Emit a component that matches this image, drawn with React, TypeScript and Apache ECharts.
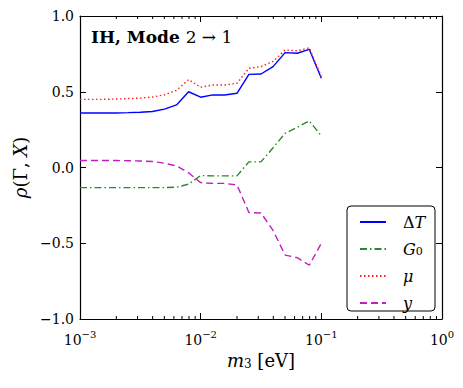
import React, { useEffect, useRef } from "react";
import * as echarts from "echarts";

const m3 = [0.001, 0.00126, 0.00158, 0.002, 0.00251, 0.00316, 0.00398, 0.00501, 0.00631, 0.00794, 0.01, 0.0126, 0.0158, 0.02, 0.0251, 0.0316, 0.0398, 0.0501, 0.0631, 0.0794, 0.1];
const deltaT = [0.36, 0.36, 0.36, 0.36, 0.362, 0.365, 0.37, 0.385, 0.413, 0.5, 0.464, 0.479, 0.479, 0.49, 0.615, 0.617, 0.666, 0.758, 0.754, 0.78, 0.589];
const g0 = [-0.133, -0.133, -0.133, -0.133, -0.133, -0.133, -0.133, -0.133, -0.13, -0.11, -0.053, -0.055, -0.055, -0.055, 0.037, 0.037, 0.13, 0.226, 0.265, 0.308, 0.208];
const mu = [0.45, 0.45, 0.45, 0.452, 0.455, 0.458, 0.465, 0.48, 0.51, 0.58, 0.53, 0.545, 0.545, 0.556, 0.655, 0.666, 0.7, 0.776, 0.77, 0.79, 0.6];
const yVar = [0.046, 0.046, 0.046, 0.046, 0.045, 0.043, 0.04, 0.028, 0.01, -0.035, -0.1, -0.105, -0.105, -0.115, -0.297, -0.3, -0.415, -0.578, -0.595, -0.645, -0.5];
const xMinorTicks = [0.001, 0.01, 0.1].flatMap((d) => [2, 3, 4, 5, 6, 7, 8, 9].map((k) => k * d));

const FONT = "DejaVu Serif";
const seriesNames = ["dT", "G0", "mu", "y"];
const legendLabels: Record<string, string> = {
  dT: "Δ{i|T}",
  G0: "{i|G}{sub|0}",
  mu: "{i|μ}",
  y: "{i|y}",
};

export default function App() {
  const ref = useRef<HTMLDivElement>(null);
  useEffect(() => {
    document.body.style.margin = "0";
    if (!ref.current) return;
    const chart = echarts.init(ref.current, undefined, { renderer: "svg" });
    const line = (name: string, data: number[], color: string, type: any) => ({
      name,
      type: "line",
      data: m3.map((x, i) => [x, data[i]]),
      symbol: "none",
      lineStyle: { color, width: 1.4, type },
      itemStyle: { color },
      z: 3,
    });
    const expText = (v: number) => {
      const e = Math.round(Math.log10(v));
      return "{b|10}{s|" + (e < 0 ? "−" + -e : String(e)) + "}";
    };
    chart.setOption({
      animation: false,
      grid: { left: 80, right: 21, top: 16, bottom: 69 },
      xAxis: [
        {
          type: "log",
          logBase: 10,
          min: 0.001,
          max: 1,
          position: "bottom",
          name: "{i|m}{sub|3} [eV]",
          nameLocation: "middle",
          nameGap: 32,
          nameTextStyle: {
            fontFamily: FONT,
            fontSize: 18,
            color: "#000",
            rich: {
              i: { fontFamily: FONT, fontStyle: "italic", fontSize: 18, color: "#000" },
              sub: { fontFamily: FONT, fontSize: 12, color: "#000", verticalAlign: "bottom", lineHeight: 16 },
            },
          },
          axisLine: { onZero: false, lineStyle: { color: "#000", width: 1.2 } },
          axisTick: { inside: true, length: 6, lineStyle: { color: "#000" } },
          splitLine: { show: false },
          axisLabel: {
            margin: 10,
            showMaxLabel: true,
            formatter: (v: number) => expText(v),
            rich: {
              b: { fontFamily: FONT, fontSize: 14, color: "#000", lineHeight: 18, verticalAlign: "bottom" },
              s: { fontFamily: FONT, fontSize: 10, color: "#000", lineHeight: 18, verticalAlign: "top" },
            },
          },
        },
        {
          type: "log",
          logBase: 10,
          min: 0.001,
          max: 1,
          position: "top",
          axisLine: { onZero: false, lineStyle: { color: "#000", width: 1.2 } },
          axisTick: { inside: true, length: 6, lineStyle: { color: "#000" } },
          axisLabel: { show: false },
          splitLine: { show: false },
        },
      ],
      yAxis: [
        {
          type: "value",
          min: -1,
          max: 1,
          interval: 0.5,
          name: "{i|ρ}(Γ, {i|X})",
          nameLocation: "middle",
          nameGap: 47,
          nameTextStyle: {
            fontFamily: FONT,
            fontSize: 18,
            color: "#000",
            rich: {
              i: { fontFamily: FONT, fontStyle: "italic", fontSize: 18, color: "#000" },
            },
          },
          axisLine: { show: true, onZero: false, lineStyle: { color: "#000", width: 1.2 } },
          axisTick: { show: true, inside: true, length: 6, lineStyle: { color: "#000" } },
          splitLine: { show: false },
          axisLabel: {
            margin: 6,
            fontFamily: FONT,
            fontSize: 14,
            color: "#000",
            formatter: (v: number) => (v < 0 ? "−" : "") + Math.abs(v).toFixed(1),
          },
        },
        {
          type: "value",
          min: -1,
          max: 1,
          interval: 0.5,
          position: "right",
          axisLine: { show: true, onZero: false, lineStyle: { color: "#000", width: 1.2 } },
          axisTick: { show: true, inside: true, length: 6, lineStyle: { color: "#000" } },
          axisLabel: { show: false },
          splitLine: { show: false },
        },
      ],
      legend: {
        data: seriesNames,
        orient: "vertical",
        left: 359,
        top: 214,
        padding: 0,
        itemWidth: 26,
        itemHeight: 14,
        itemGap: 11,
        z: 5,
        itemStyle: { opacity: 0 },
        formatter: (name: string) => legendLabels[name],
        textStyle: {
          fontFamily: FONT,
          fontSize: 16,
          color: "#000",
          padding: [0, 0, 0, 12],
          rich: {
            i: { fontFamily: FONT, fontStyle: "italic", fontSize: 16, color: "#000" },
            sub: { fontFamily: FONT, fontSize: 11, color: "#000", verticalAlign: "bottom", lineHeight: 14 },
          },
        },
      },
      graphic: [
        {
          type: "rect",
          shape: { x: 347, y: 206, width: 88, height: 105, r: 4 },
          style: { fill: "#fff", stroke: "#000", lineWidth: 1 },
          z: 4,
        },
        {
          type: "text",
          x: 91,
          y: 28,
          style: {
            text: "{b|IH, Mode }{r|2 → 1}",
            rich: {
              b: { fontFamily: FONT, fontWeight: "bold", fontSize: 17, fill: "#000" },
              r: { fontFamily: FONT, fontSize: 17, fill: "#000" },
            },
          },
          z: 6,
        },
      ],
      series: [
        line("dT", deltaT, "#0000ff", "solid"),
        line("G0", g0, "#2a8a2a", [7, 3, 1.5, 3]),
        line("mu", mu, "#ff2020", [1.5, 2.5]),
        line("y", yVar, "#c020c0", [7, 4]),
        {
          type: "custom",
          silent: true,
          data: xMinorTicks.map((v) => [v, 0]),
          encode: { x: 0, y: 1 },
          renderItem: (params: any, api: any) => {
            const x = api.coord([api.value(0), 0])[0];
            const cs = params.coordSys;
            const st = { stroke: "#000", lineWidth: 1 };
            return {
              type: "group",
              children: [
                { type: "line", shape: { x1: x, y1: cs.y + cs.height, x2: x, y2: cs.y + cs.height - 3 }, style: st },
                { type: "line", shape: { x1: x, y1: cs.y, x2: x, y2: cs.y + 3 }, style: st },
              ],
            };
          },
          z: 4,
        },
      ],
    });
    return () => chart.dispose();
  }, []);
  return <div ref={ref} style={{ width: 463, height: 388 }} />;
}
